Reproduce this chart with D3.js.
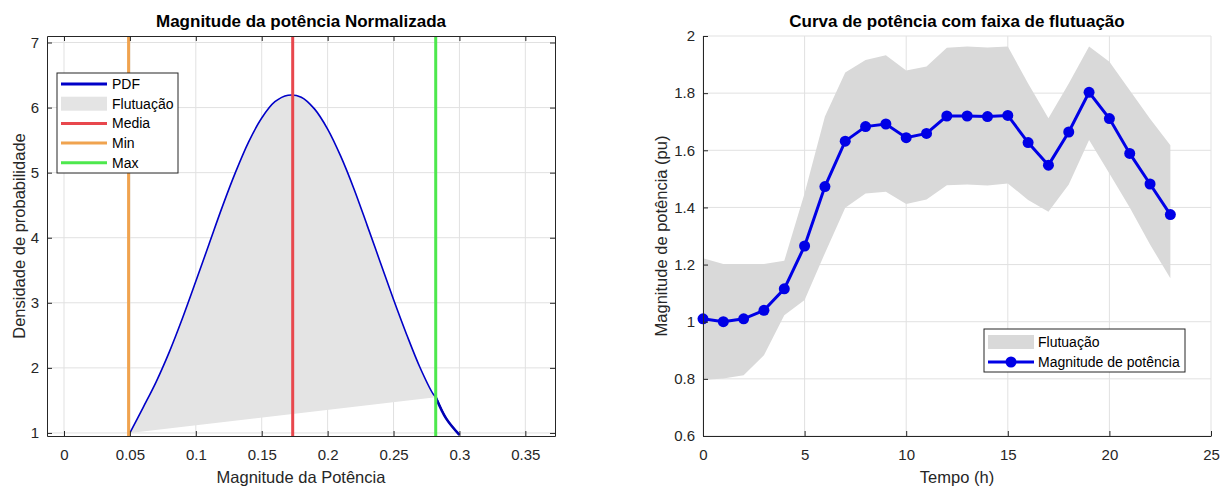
<!DOCTYPE html>
<html>
<head>
<meta charset="utf-8">
<script src="https://cdn.jsdelivr.net/npm/d3@7"></script>
<style>
  body { margin: 0; background: #fff; }
  svg { font-family: "Liberation Sans", Arial, Helvetica, sans-serif; }
  .axis path, .axis line { stroke: #262626; }
  .axis text { fill: #262626; }
</style>
</head>
<body>
<svg id="chart" width="1231" height="489"></svg>
<script>
// left panel: normalised power pdf
var pdfX = [0.05, 0.06, 0.07, 0.08, 0.09, 0.10, 0.11, 0.12, 0.13, 0.14, 0.15, 0.16, 0.17,
            0.18, 0.19, 0.20, 0.21, 0.22, 0.23, 0.24, 0.25, 0.26, 0.27, 0.28, 0.282, 0.29, 0.30];
var pdfY = [1.00, 1.39, 1.79, 2.25, 2.77, 3.33, 3.90, 4.47, 5.00, 5.47, 5.84, 6.09, 6.19,
            6.16, 5.98, 5.67, 5.25, 4.75, 4.19, 3.62, 3.05, 2.51, 2.01, 1.60, 1.55, 1.22, 0.97];
var minVal = 0.049;
var meanVal = 0.1735;
var maxVal = 0.282;
var xTicksLeft = [0, 0.05, 0.1, 0.15, 0.2, 0.25, 0.3, 0.35];
var yTicksLeft = [1, 2, 3, 4, 5, 6, 7];

// right panel: hourly power curve with band
var hours = [0, 1, 2, 3, 4, 5, 6, 7, 8, 9, 10, 11, 12, 13, 14, 15, 16, 17, 18, 19, 20, 21, 22, 23];
var power = [1.01, 1.00, 1.01, 1.04, 1.115, 1.265, 1.473, 1.632, 1.683, 1.692, 1.644, 1.659,
             1.72, 1.72, 1.718, 1.722, 1.627, 1.548, 1.664, 1.803, 1.711, 1.589, 1.482, 1.375];
var bandUpper = [1.222, 1.202, 1.202, 1.202, 1.213, 1.45, 1.718, 1.872, 1.916, 1.933, 1.879, 1.893,
                 1.959, 1.963, 1.96, 1.963, 1.834, 1.712, 1.834, 1.963, 1.91, 1.81, 1.71, 1.618];
var bandLower = [0.796, 0.801, 0.813, 0.883, 1.023, 1.076, 1.24, 1.399, 1.449, 1.455, 1.412, 1.428,
                 1.478, 1.48, 1.477, 1.484, 1.426, 1.385, 1.48, 1.636, 1.519, 1.40, 1.27, 1.152];
var xTicksRight = [0, 5, 10, 15, 20, 25];
var yTicksRight = [0.6, 0.8, 1, 1.2, 1.4, 1.6, 1.8, 2];

var svg = d3.select('#chart');
var fmt = function(v) { return String(+v.toFixed(2)); };

var style_axis = function(g) {
    g.attr('font-family', null).attr('font-size', 15);
    g.selectAll('text').attr('fill', '#262626');
};

var grid = function(g, x, y, xt, yt) {
    g.selectAll('line.gx').data(xt).enter().append('line')
        .attr('stroke', '#e1e1e1')
        .attr('x1', function(d) { return x(d); })
        .attr('x2', function(d) { return x(d); })
        .attr('y1', y.range()[0])
        .attr('y2', y.range()[1]);
    g.selectAll('line.gy').data(yt).enter().append('line')
        .attr('stroke', '#e1e1e1')
        .attr('x1', x.range()[0])
        .attr('x2', x.range()[1])
        .attr('y1', function(d) { return y(d); })
        .attr('y2', function(d) { return y(d); });
};

// ---------- left panel ----------
var xL = d3.scaleLinear().domain([-0.0129, 0.3725]).range([47, 555]);
var yL = d3.scaleLinear().domain([0.953, 7.1]).range([436, 36]);

svg.append('defs').append('clipPath').attr('id', 'clipL')
    .append('rect').attr('x', 47).attr('y', 36).attr('width', 508).attr('height', 400);

grid(svg.append('g'), xL, yL, xTicksLeft, yTicksLeft);

var pdf = pdfX.map(function(x, i) { return [x, pdfY[i]]; });
var fluct = pdf.filter(function(p) { return p[0] >= minVal && p[0] <= maxVal; });
var tail = pdf.filter(function(p) { return p[0] >= maxVal; });

var lineL = d3.line()
    .x(function(d) { return xL(d[0]); })
    .y(function(d) { return yL(d[1]); })
    .curve(d3.curveCatmullRom);

var plotL = svg.append('g').attr('clip-path', 'url(#clipL)');

plotL.append('path')
    .attr('d', lineL(fluct) + 'Z')
    .attr('fill', '#e4e4e4')
    .attr('stroke', 'none');

plotL.append('path')
    .attr('d', lineL(pdf))
    .attr('fill', 'none')
    .attr('stroke', '#0000c8')
    .attr('stroke-width', 1.6);

// the part past the max line looks heavier in the original
plotL.append('path')
    .attr('d', lineL(tail))
    .attr('fill', 'none')
    .attr('stroke', '#0000b4')
    .attr('stroke-width', 2.6);

var vlines = [
    {'value': meanVal, 'color': '#e8474d'},
    {'value': minVal, 'color': '#f0a34f'},
    {'value': maxVal, 'color': '#4de84d'}
];
plotL.selectAll('line.v').data(vlines).enter().append('line')
    .attr('x1', function(d) { return xL(d.value); })
    .attr('x2', function(d) { return xL(d.value); })
    .attr('y1', 36)
    .attr('y2', 436)
    .attr('stroke', function(d) { return d.color; })
    .attr('stroke-width', 3);

svg.append('g').attr('class', 'axis').attr('transform', 'translate(0,436)')
    .call(d3.axisBottom(xL).tickValues(xTicksLeft).tickFormat(fmt)
          .tickSize(-5).tickSizeOuter(0).tickPadding(13))
    .call(style_axis);
svg.append('g').attr('class', 'axis').attr('transform', 'translate(0,36)')
    .call(d3.axisTop(xL).tickValues(xTicksLeft).tickFormat('')
          .tickSize(-5).tickSizeOuter(0));
svg.append('g').attr('class', 'axis').attr('transform', 'translate(47,0)')
    .call(d3.axisLeft(yL).tickValues(yTicksLeft).tickFormat(fmt)
          .tickSize(-5).tickSizeOuter(0).tickPadding(8))
    .call(style_axis);
svg.append('g').attr('class', 'axis').attr('transform', 'translate(555,0)')
    .call(d3.axisRight(yL).tickValues(yTicksLeft).tickFormat('')
          .tickSize(-5).tickSizeOuter(0));

svg.append('text')
    .attr('x', 301).attr('y', 27)
    .attr('text-anchor', 'middle')
    .attr('font-size', 17).attr('font-weight', 'bold')
    .text('Magnitude da potência Normalizada');
svg.append('text')
    .attr('x', 301).attr('y', 483)
    .attr('text-anchor', 'middle')
    .attr('font-size', 16.5).attr('fill', '#262626')
    .text('Magnitude da Potência');
svg.append('text')
    .attr('transform', 'translate(25,236) rotate(-90)')
    .attr('text-anchor', 'middle')
    .attr('font-size', 16.5).attr('fill', '#262626')
    .text('Densidade de probabilidade');

// legend left
var legL = svg.append('g');
legL.append('rect')
    .attr('x', 57).attr('y', 73).attr('width', 121).attr('height', 100)
    .attr('fill', '#fff').attr('stroke', '#262626').attr('stroke-width', 1);
var legItemsL = [
    {'name': 'PDF', 'color': '#0000c8', 'type': 'line'},
    {'name': 'Flutuação', 'color': '#e4e4e4', 'type': 'patch'},
    {'name': 'Media', 'color': '#e8474d', 'type': 'line'},
    {'name': 'Min', 'color': '#f0a34f', 'type': 'line'},
    {'name': 'Max', 'color': '#4de84d', 'type': 'line'}
];
var li = legL.selectAll('g').data(legItemsL).enter().append('g')
    .attr('transform', function(d, i) { return 'translate(0,' + (84 + i * 19.7) + ')'; });
li.filter(function(d) { return d.type === 'line'; }).append('line')
    .attr('x1', 61).attr('x2', 107).attr('y1', 0).attr('y2', 0)
    .attr('stroke', function(d) { return d.color; })
    .attr('stroke-width', 3);
li.filter(function(d) { return d.type === 'patch'; }).append('rect')
    .attr('x', 61).attr('y', -7).attr('width', 46).attr('height', 14)
    .attr('fill', function(d) { return d.color; });
li.append('text')
    .attr('x', 112).attr('y', 0).attr('dy', '0.35em')
    .attr('font-size', 14)
    .text(function(d) { return d.name; });

// ---------- right panel ----------
var xR = d3.scaleLinear().domain([0, 25]).range([703, 1211]);
var yR = d3.scaleLinear().domain([0.6, 2]).range([436, 36]);

grid(svg.append('g'), xR, yR, xTicksRight, yTicksRight);

var band = d3.area()
    .x(function(d, i) { return xR(hours[i]); })
    .y0(function(d, i) { return yR(bandLower[i]); })
    .y1(function(d, i) { return yR(bandUpper[i]); });

svg.append('path')
    .attr('d', band(hours))
    .attr('fill', '#d9d9d9');

var lineR = d3.line()
    .x(function(d, i) { return xR(hours[i]); })
    .y(function(d) { return yR(d); });

svg.append('path')
    .attr('d', lineR(power))
    .attr('fill', 'none')
    .attr('stroke', '#0000e6')
    .attr('stroke-width', 3);

svg.append('g').selectAll('circle').data(power).enter().append('circle')
    .attr('cx', function(d, i) { return xR(hours[i]); })
    .attr('cy', function(d) { return yR(d); })
    .attr('r', 5.5)
    .attr('fill', '#0000e6');

svg.append('g').attr('class', 'axis').attr('transform', 'translate(0,436)')
    .call(d3.axisBottom(xR).tickValues(xTicksRight).tickFormat(fmt)
          .tickSize(-5).tickSizeOuter(0).tickPadding(13))
    .call(style_axis);
svg.append('g').attr('class', 'axis').attr('transform', 'translate(703,0)')
    .call(d3.axisLeft(yR).tickValues(yTicksRight).tickFormat(fmt)
          .tickSize(-5).tickSizeOuter(0).tickPadding(8))
    .call(style_axis);

svg.append('text')
    .attr('x', 957).attr('y', 27)
    .attr('text-anchor', 'middle')
    .attr('font-size', 17).attr('font-weight', 'bold')
    .text('Curva de potência com faixa de flutuação');
svg.append('text')
    .attr('x', 957).attr('y', 483)
    .attr('text-anchor', 'middle')
    .attr('font-size', 16.5).attr('fill', '#262626')
    .text('Tempo (h)');
svg.append('text')
    .attr('transform', 'translate(667,236) rotate(-90)')
    .attr('text-anchor', 'middle')
    .attr('font-size', 16.5).attr('fill', '#262626')
    .text('Magnitude de potência (pu)');

// legend right
var legR = svg.append('g');
legR.append('rect')
    .attr('x', 984).attr('y', 329).attr('width', 201).attr('height', 43)
    .attr('fill', '#fff').attr('stroke', '#262626').attr('stroke-width', 1);
legR.append('rect')
    .attr('x', 988).attr('y', 335).attr('width', 46).attr('height', 14)
    .attr('fill', '#d9d9d9');
legR.append('text')
    .attr('x', 1038).attr('y', 342).attr('dy', '0.35em')
    .attr('font-size', 14)
    .text('Flutuação');
legR.append('line')
    .attr('x1', 988).attr('x2', 1034).attr('y1', 362).attr('y2', 362)
    .attr('stroke', '#0000e6').attr('stroke-width', 3);
legR.append('circle')
    .attr('cx', 1011).attr('cy', 362).attr('r', 5.5)
    .attr('fill', '#0000e6');
legR.append('text')
    .attr('x', 1038).attr('y', 362).attr('dy', '0.35em')
    .attr('font-size', 14)
    .text('Magnitude de potência');
</script>
</body>
</html>
